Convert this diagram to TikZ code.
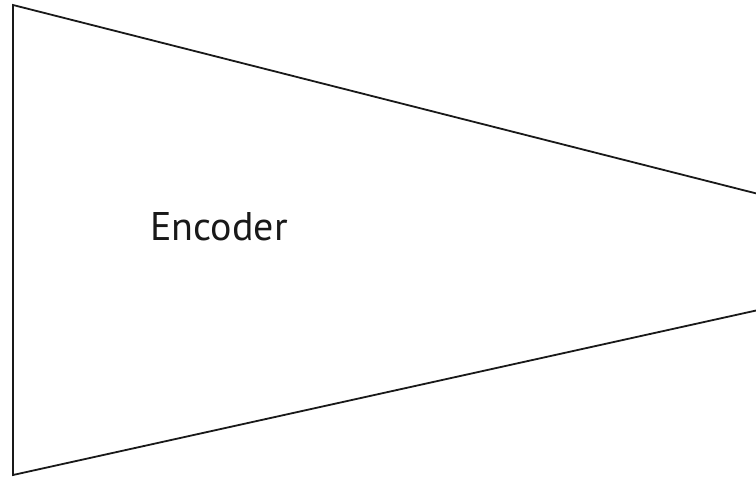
\documentclass[tikz,border=0pt]{standalone}
\usepackage{fontspec}
\setmainfont{PT Sans}
\begin{document}
\begin{tikzpicture}[x=0.75pt,y=-0.75pt,
  outline/.style={line width=1.35pt,line join=miter,black!90}]
\useasboundingbox (0,0) rectangle (756,477);
\begin{scope}
\clip (0,0) rectangle (756,477);
% encoder block: tapered towards the right, open past the edge
\draw[outline] (790,202) -- (13,5) -- (13,475) -- (790,303);
\end{scope}
\node[anchor=base,font=\fontsize{30pt}{34pt}\selectfont,text=black!90,inner sep=0] (label) at (219,241) {Encoder};
\end{tikzpicture}
\end{document}
